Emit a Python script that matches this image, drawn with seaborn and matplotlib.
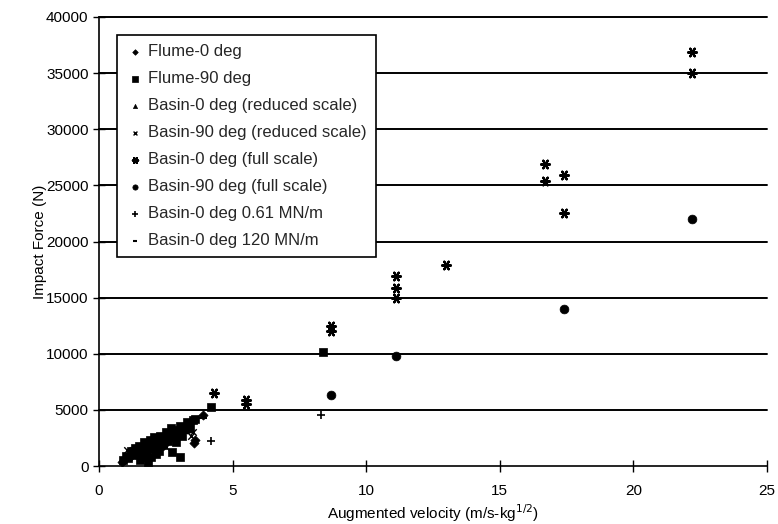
import matplotlib
matplotlib.use("Agg")
import matplotlib.pyplot as plt
import seaborn as sns
import pandas as pd

# ---- data ----
flume0_x = [0.85, 0.95, 1.2, 1.5, 1.8, 2.1, 2.4, 2.7, 3.0, 3.3, 3.55, 3.6, 3.9, 1.35, 2.25]
flume0_y = [350, 550, 900, 1300, 1500, 1900, 2200, 2600, 2800, 3300, 2050, 2300, 4500, 1100, 1600]

flume90_x = [0.9, 1.0, 1.1, 1.2, 1.3, 1.35, 1.45, 1.5, 1.6, 1.65, 1.7, 1.75, 1.8, 1.9, 1.95,
             2.0, 2.05, 2.1, 2.2, 2.25, 2.3, 2.4, 2.45, 2.5, 2.6, 2.65, 2.7, 2.8, 2.85, 2.9,
             3.0, 3.05, 3.1, 3.2, 3.3, 3.4, 3.5, 3.6, 2.75, 3.05, 1.55, 1.85, 2.15, 4.2, 8.4]
flume90_y = [500, 900, 700, 1300, 1000, 1600, 1200, 1800, 800, 1500, 2100, 1100, 1700, 2300, 800,
             1500, 2600, 1900, 2200, 1300, 2700, 1900, 2400, 3000, 2200, 2800, 3400, 2600, 3200, 2100,
             3100, 3600, 2700, 3300, 3900, 3500, 4100, 4200, 1250, 800, 500, 400, 1100, 5300, 10200]

basin0_red_x = [1.1, 1.8, 2.6, 3.4]
basin0_red_y = [1000, 1700, 2500, 3300]

basin90_red_x = [1.05, 1.7, 2.5, 3.45, 3.5]
basin90_red_y = [1400, 1000, 1700, 2700, 3000]

basin0_full_x = [4.3, 5.5, 5.5, 8.7, 8.7, 11.1, 11.1, 11.1, 13.0, 16.7, 16.7, 17.4, 17.4, 22.2, 22.2]
basin0_full_y = [6500, 5900, 5500, 12500, 12000, 16900, 15900, 15000, 17900, 26900, 25400, 25900, 22500, 36900, 35000]

basin90_full_x = [8.7, 11.1, 17.4, 22.2]
basin90_full_y = [6300, 9800, 14000, 22000]

basin0_061_x = [4.2, 8.3]
basin0_061_y = [2200, 4500]

basin0_120_x = [3.9]
basin0_120_y = [4300]

labels = ["Flume-0 deg", "Flume-90 deg", "Basin-0 deg (reduced scale)",
          "Basin-90 deg (reduced scale)", "Basin-0 deg (full scale)",
          "Basin-90 deg (full scale)", "Basin-0 deg 0.61 MN/m", "Basin-0 deg 120 MN/m"]
yticks = [0, 5000, 10000, 15000, 20000, 25000, 30000, 35000, 40000]
xticks = [0, 5, 10, 15, 20, 25]

series = [
    (flume0_x, flume0_y, "D", 22, 0.5),
    (flume90_x, flume90_y, "s", 40, 0.5),
    (basin0_red_x, basin0_red_y, "^", 25, 0.5),
    (basin90_red_x, basin90_red_y, "x", 22, 1.0),
    (basin0_full_x, basin0_full_y, (6, 2, 90), 40, 1.6),
    (basin90_full_x, basin90_full_y, "o", 40, 0.5),
    (basin0_061_x, basin0_061_y, "+", 40, 1.2),
    (basin0_120_x, basin0_120_y, "_", 30, 1.5),
]

sns.set_theme(style="white")
plt.rcParams["font.family"] = ["Liberation Sans", "DejaVu Sans"]

fig = plt.figure(figsize=(7.78, 5.24), dpi=100)
ax = fig.add_axes([99 / 778, 1 - 466 / 524, 668 / 778, 449 / 524])

for (xs, ys, m, s, lw), lab in zip(series, labels):
    df = pd.DataFrame({"x": xs, "y": ys})
    filled = m not in ("x", "+", "_") and not isinstance(m, tuple)
    kw = dict(edgecolor="black") if filled else {}
    sns.scatterplot(data=df, x="x", y="y", marker=m, s=s, color="black",
                    linewidth=lw, ax=ax, label=lab, zorder=3, **kw)

ax.set_xlim(0, 25)
ax.set_ylim(0, 40000)
ax.set_xticks(xticks)
ax.set_yticks(yticks)
for yv in yticks[1:]:
    ax.axhline(yv, color="black", linewidth=1.4, zorder=1, clip_on=False)

for sp in ["top", "right"]:
    ax.spines[sp].set_visible(False)
for sp in ["left", "bottom"]:
    ax.spines[sp].set_color("black")
    ax.spines[sp].set_linewidth(1.2)

ax.tick_params(axis="both", direction="inout", length=8, width=1, color="black",
               labelsize=11, labelcolor="black", left=True, bottom=True)
ax.tick_params(axis="x", pad=9)
ax.set_xlabel("Augmented velocity (m/s-kg$^{1/2}$)", fontsize=11, color="black", labelpad=3)
ax.set_ylabel("Impact Force (N)", fontsize=11, color="black", labelpad=-1)

leg = ax.legend(loc="upper left", bbox_to_anchor=(0.027, 0.96), frameon=True,
                fancybox=False, edgecolor="black", framealpha=1, fontsize=12,
                labelspacing=0.72, handletextpad=0.2, markerscale=0.6,
                borderpad=0.55, handlelength=1.1, borderaxespad=0)
leg.get_frame().set_linewidth(1.2)

fig.savefig("out.png", dpi=100)
